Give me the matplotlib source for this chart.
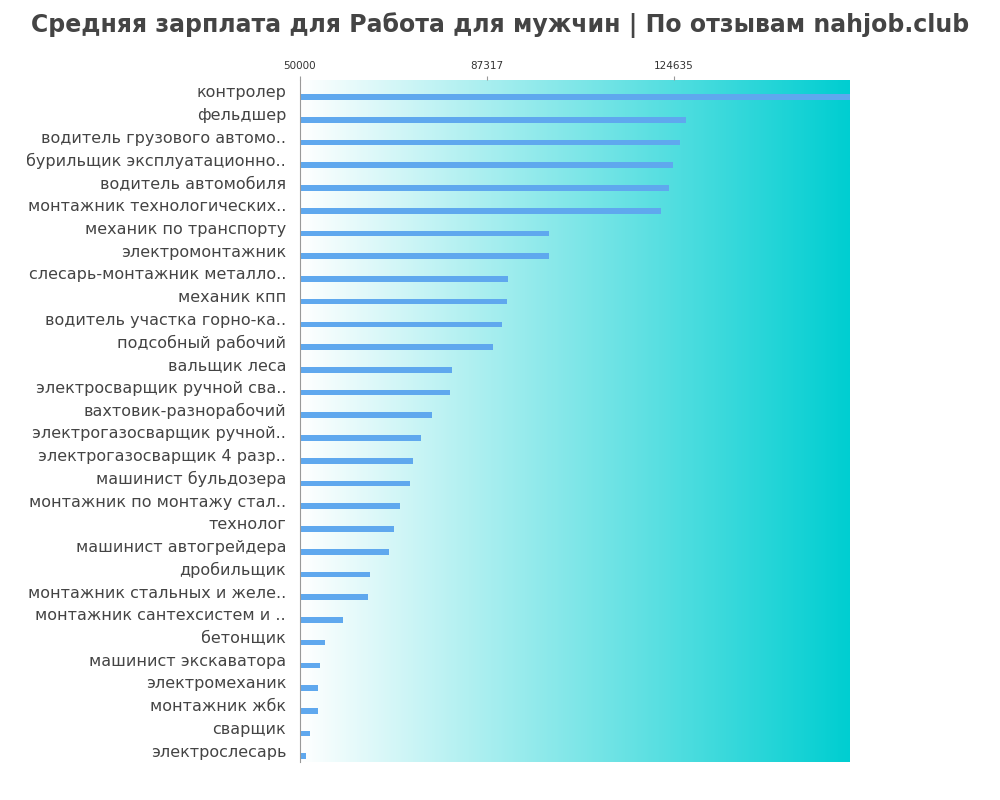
import matplotlib
matplotlib.use("Agg")
import matplotlib.pyplot as plt
import numpy as np
from matplotlib.colors import LinearSegmentedColormap

labels = ["контролер","фельдшер","водитель грузового автомо..","бурильщик эксплуатационно..",
"водитель автомобиля","монтажник технологических..","механик по транспорту","электромонтажник",
"слесарь-монтажник металло..","механик кпп","водитель участка горно-ка..","подсобный рабочий",
"вальщик леса","электросварщик ручной сва..","вахтовик-разнорабочий","электрогазосварщик ручной..",
"электрогазосварщик 4 разр..","машинист бульдозера","монтажник по монтажу стал..","технолог",
"машинист автогрейдера","дробильщик","монтажник стальных и желе..","монтажник сантехсистем и ..",
"бетонщик","машинист экскаватора","электромеханик","монтажник жбк","сварщик","электрослесарь"]
values = [162000,127030,125833,124436,123638,122042,99691,99691,91509,91310,90311,88515,80333,79934,
76342,74147,72550,71952,69956,68758,67760,63969,63570,58581,54989,53991,53592,53592,51996,51197]
ticks = [50000, 87317, 124635]

fig = plt.figure(figsize=(10, 8), dpi=100)
ax = fig.add_axes([0.3, 0.0475, 0.55, 0.8525])
xmin, xmax = 50000, 159760
n = len(labels)
cmap = LinearSegmentedColormap.from_list("g", ["#ffffff", "#00ced1"])
grad = np.linspace(0, 1, 256).reshape(1, -1)
ax.imshow(grad, extent=[xmin, xmax, n - 0.5, -0.5], aspect="auto", cmap=cmap, zorder=0)
y = np.arange(n) + 0.25
ax.barh(y, np.array(values) - xmin, left=xmin, height=0.25, color="#5fa8ee", zorder=2)
ax.set_xlim(xmin, xmax)
ax.set_ylim(n - 0.5, -0.5)
ax.set_yticks(np.arange(n))
ax.set_yticklabels(labels, fontsize=11.5, color="#444444")
ax.tick_params(axis="y", length=0, pad=10)
ax.xaxis.tick_top()
ax.set_xticks(ticks)
ax.set_xticklabels([str(t) for t in ticks], fontsize=7.5, color="#333333")
ax.tick_params(axis="x", length=3, color="#999999")
for s in ["top", "right", "bottom"]:
    ax.spines[s].set_visible(False)
ax.spines["left"].set_color("#999999")
fig.suptitle("Средняя зарплата для Работа для мужчин | По отзывам nahjob.club", x=0.5, y=0.985,
             fontsize=17, fontweight="bold", color="#444444")
fig.savefig("out.png")
